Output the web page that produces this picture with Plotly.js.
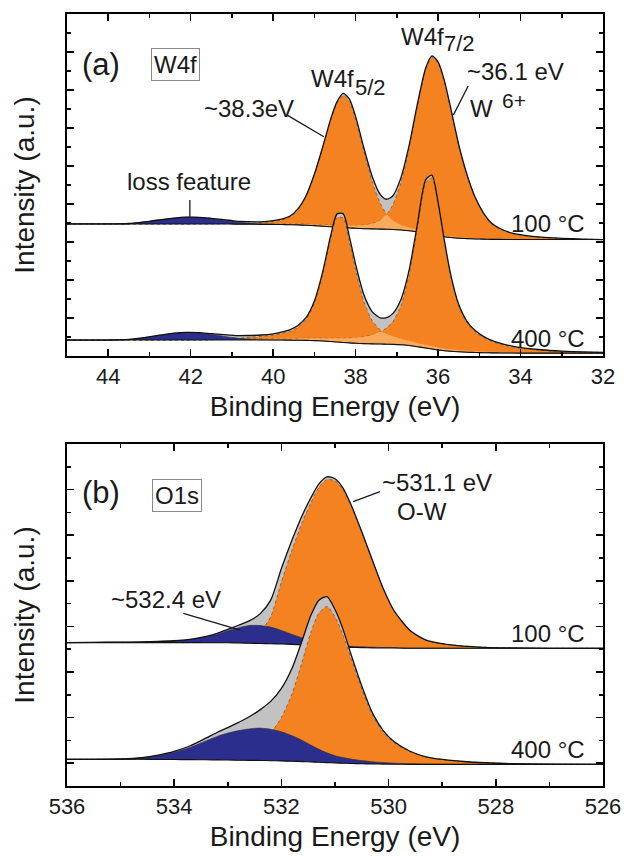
<!DOCTYPE html>
<html>
<head>
<meta charset="utf-8">
<script src="https://cdn.plot.ly/plotly-3.0.1.min.js"></script>
<style>html,body{margin:0;padding:0;background:#fff;}#chart{width:624px;height:856px;}</style>
</head>
<body>
<div id="chart"></div>
<script>
// ---------- Panel (a): W4f, binding energy grid (eV) ----------
const BE_A = [45, 44.5, 44, 43.5, 43, 42.7, 42.4, 42.1, 41.8, 41.5, 41.2, 40.9, 40.6, 40.3, 40.0, 39.8, 39.6, 39.4, 39.2, 39.0, 38.8, 38.6, 38.45, 38.3, 38.15, 38.0, 37.8, 37.6, 37.4, 37.25, 37.1, 36.9, 36.7, 36.5, 36.3, 36.15, 36.0, 35.85, 35.7, 35.5, 35.3, 35.1, 34.9, 34.7, 34.5, 34.2, 33.9, 33.5, 33.0, 32.5, 32.0];

// 100 °C (a): background and component heights above background
const BG_A_100 = [6.95,6.95,6.95,6.95,6.95,6.95,6.95,6.95,6.95,6.95,6.95,6.94,6.94,6.93,6.93,6.92,6.91,6.90,6.88,6.86,6.83,6.80,6.78,6.76,6.74,6.72,6.70,6.69,6.68,6.67,6.66,6.63,6.59,6.53,6.45,6.39,6.33,6.28,6.24,6.20,6.18,6.16,6.15,6.14,6.14,6.13,6.13,6.13,6.13,6.13,6.13];
const W52_A_100 = [0,0,0,0,0,0,0,0,0,0,0.01,0.02,0.045,0.08,0.15,0.24,0.40,0.79,1.51,2.65,4.09,5.62,6.51,6.95,6.64,5.73,4.07,2.49,1.34,0.81,0.48,0.26,0.17,0.125,0.10,0.09,0.077,0.067,0.06,0.052,0.046,0.042,0.035,0.033,0.03,0.025,0.02,0.015,0.01,0.005,0];
const W72_A_100 = [0,0,0,0,0,0,0,0,0.01,0.015,0.02,0.025,0.03,0.035,0.04,0.043,0.045,0.055,0.058,0.065,0.073,0.086,0.097,0.113,0.137,0.15,0.19,0.28,0.47,0.77,1.28,2.50,4.35,6.63,8.61,9.32,9.07,8.17,6.81,4.88,3.33,2.15,1.35,0.81,0.54,0.31,0.20,0.11,0.054,0.02,0];
const LOSS_A_100 = [0,0,0,0.025,0.14,0.23,0.31,0.356,0.34,0.28,0.20,0.11,0.054,0.018,0,0,0,0,0,0,0,0,0,0,0,0,0,0,0,0,0,0,0,0,0,0,0,0,0,0,0,0,0,0,0,0,0,0,0,0,0];

// 400 °C (a)
const BG_A_400 = [0.84,0.84,0.84,0.84,0.84,0.84,0.84,0.84,0.84,0.84,0.84,0.84,0.84,0.84,0.84,0.84,0.835,0.83,0.82,0.81,0.79,0.76,0.74,0.71,0.69,0.67,0.65,0.64,0.63,0.62,0.61,0.59,0.55,0.49,0.42,0.37,0.32,0.28,0.25,0.22,0.20,0.185,0.175,0.165,0.16,0.155,0.15,0.15,0.15,0.15,0.15];
const W52_A_400 = [0,0,0,0,0,0,0,0,0,0.01,0.05,0.08,0.14,0.19,0.26,0.34,0.46,0.68,1.10,1.96,3.48,5.45,6.55,6.55,5.33,3.85,2.21,1.23,0.74,0.54,0.43,0.32,0.25,0.20,0.17,0.15,0.13,0.115,0.10,0.09,0.078,0.068,0.061,0.056,0.05,0.044,0.038,0.03,0.02,0.01,0];
const W72_A_400 = [0,0,0,0,0,0,0,0,0.02,0.025,0.035,0.045,0.05,0.06,0.07,0.075,0.085,0.095,0.11,0.127,0.146,0.17,0.19,0.22,0.25,0.30,0.36,0.47,0.64,0.86,1.19,2.07,3.75,6.27,8.68,9.0,7.64,5.73,4.0,2.41,1.55,1.09,0.80,0.60,0.47,0.32,0.23,0.15,0.09,0.055,0.036];
const LOSS_A_400 = [0,0,0,0.03,0.17,0.27,0.36,0.40,0.37,0.30,0.20,0.11,0.05,0.016,0,0,0,0,0,0,0,0,0,0,0,0,0,0,0,0,0,0,0,0,0,0,0,0,0,0,0,0,0,0,0,0,0,0,0,0,0];

// ---------- Panel (b): O1s ----------
const BE_B = [536, 535.5, 535, 534.6, 534.3, 534.0, 533.7, 533.4, 533.2, 533.0, 532.8, 532.6, 532.4, 532.2, 532.0, 531.8, 531.6, 531.45, 531.3, 531.15, 531.0, 530.85, 530.7, 530.5, 530.3, 530.1, 529.9, 529.6, 529.3, 529.0, 528.6, 528.2, 527.7, 527.0, 526.0];

const BG_B_100 = [6.29,6.29,6.29,6.29,6.29,6.29,6.29,6.285,6.28,6.28,6.27,6.26,6.25,6.24,6.23,6.21,6.19,6.17,6.15,6.13,6.11,6.09,6.08,6.07,6.06,6.05,6.05,6.04,6.04,6.04,6.04,6.04,6.04,6.04,6.04];
const OW_B_100 = [0,0,0,0,0,0,0,0.02,0.03,0.06,0.11,0.20,0.51,1.18,2.72,4.15,5.44,6.25,6.95,7.31,7.28,6.91,6.20,5.04,3.80,2.59,1.63,0.77,0.35,0.20,0.096,0.044,0.015,0,0];
const O2_B_100 = [0,0.01,0.02,0.03,0.05,0.08,0.14,0.26,0.38,0.53,0.67,0.78,0.79,0.73,0.59,0.44,0.30,0.22,0.15,0.12,0.088,0.068,0.051,0.038,0.031,0.024,0.018,0.012,0.008,0.005,0,0,0,0,0];

const BG_B_400 = [1.17,1.17,1.17,1.17,1.165,1.16,1.155,1.15,1.145,1.14,1.13,1.125,1.12,1.11,1.10,1.085,1.07,1.055,1.04,1.025,1.01,1.0,0.99,0.975,0.965,0.96,0.955,0.95,0.95,0.95,0.95,0.95,0.95,0.95,0.95];
const OW_B_400 = [0,0,0.005,0.01,0.02,0.04,0.07,0.12,0.17,0.24,0.36,0.53,0.80,1.22,1.90,2.97,4.48,5.69,6.54,6.85,6.41,5.62,4.59,3.27,2.13,1.40,0.95,0.55,0.32,0.21,0.125,0.07,0.03,0.005,0];
const O2_B_400 = [0,0,0.01,0.06,0.17,0.32,0.54,0.84,1.03,1.18,1.30,1.38,1.42,1.38,1.28,1.12,0.92,0.74,0.57,0.43,0.32,0.25,0.19,0.14,0.10,0.07,0.045,0.025,0.012,0.005,0,0,0,0,0];

// ---------- tick labels ----------
const TICKS_A = [44, 42, 40, 38, 36, 34, 32];
const TICKS_B = [536, 534, 532, 530, 528, 526];

// ---------- styling ----------
const ORANGE = '#F58220', NAVY = '#2B2E8C', GRAY = '#C2C2C2', LIGHTOR = '#F9AA5C';
const FONT = 'Liberation Sans, Arial, Helvetica, sans-serif';

const plus = (a, b) => a.map((v, i) => v + b[i]);
const SHAPE = {shape: 'spline', smoothing: 0.7};

function base(x, y, xa, ya) {
  return {x, y, xaxis: xa, yaxis: ya, mode: 'lines', line: Object.assign({width: 0}, SHAPE),
          hoverinfo: 'skip', showlegend: false};
}
function filled(x, y, xa, ya, fc, lc, lw, dash) {
  return {x, y, xaxis: xa, yaxis: ya, mode: 'lines', fill: 'tonexty', fillcolor: fc,
          line: Object.assign({color: lc, width: lw, dash: dash || 'solid'}, SHAPE),
          hoverinfo: 'skip', showlegend: false};
}
function plain(x, y, xa, ya, lc, lw) {
  return {x, y, xaxis: xa, yaxis: ya, mode: 'lines',
          line: Object.assign({color: lc, width: lw}, SHAPE), hoverinfo: 'skip', showlegend: false};
}

const traces = [];
function panelA(bg, h52, h72, loss) {
  const xa = 'x', ya = 'y', x = BE_A;
  const env = bg.map((v, i) => v + h52[i] + h72[i] + loss[i]);
  const ovl = bg.map((v, i) => v + Math.min(h52[i], h72[i]));
  traces.push(base(x, bg, xa, ya), filled(x, env, xa, ya, GRAY, 'rgba(0,0,0,0)', 0));
  traces.push(base(x, bg, xa, ya), filled(x, plus(bg, h52), xa, ya, ORANGE, '#6b4a2a', 0.7, 'dot'));
  traces.push(base(x, bg, xa, ya), filled(x, plus(bg, h72), xa, ya, ORANGE, '#6b4a2a', 0.7, 'dot'));
  traces.push(base(x, bg, xa, ya), filled(x, ovl, xa, ya, LIGHTOR, 'rgba(0,0,0,0)', 0));
  traces.push(base(x, bg, xa, ya), filled(x, plus(bg, loss), xa, ya, NAVY, '#333', 0.6));
  traces.push(plain(x, env, xa, ya, '#111', 1.3), plain(x, bg, xa, ya, '#111', 1.1));
}
function panelB(bg, ow, o2) {
  const xa = 'x2', ya = 'y2', x = BE_B;
  const env = bg.map((v, i) => v + ow[i] + o2[i]);
  traces.push(base(x, bg, xa, ya), filled(x, env, xa, ya, GRAY, 'rgba(0,0,0,0)', 0));
  traces.push(base(x, bg, xa, ya), filled(x, plus(bg, ow), xa, ya, ORANGE, '#6b4a2a', 0.7, 'dot'));
  traces.push(base(x, bg, xa, ya), filled(x, plus(bg, o2), xa, ya, NAVY, '#333', 0.6));
  traces.push(plain(x, env, xa, ya, '#111', 1.3), plain(x, bg, xa, ya, '#111', 1.1));
}
panelA(BG_A_100, W52_A_100, W72_A_100, LOSS_A_100);
panelA(BG_A_400, W52_A_400, W72_A_400, LOSS_A_400);
panelB(BG_B_100, OW_B_100, O2_B_100);
panelB(BG_B_400, OW_B_400, O2_B_400);

function xAxis(range, tv, anchor) {
  return {domain: [67/624, 603/624], range, anchor, tickmode: 'array', tickvals: tv, ticktext: tv.map(String),
    ticks: 'inside', ticklen: 7, tickwidth: 1.5, tickcolor: '#000', showline: true, linewidth: 1.6,
    linecolor: '#000', mirror: 'ticks', showgrid: false, zeroline: false,
    tickfont: {size: 22, color: '#1a1a1a', family: FONT},
    minor: {dtick: 1, tick0: 0, ticks: 'inside', ticklen: 4, tickwidth: 1.5, tickcolor: '#000', showgrid: false},
    title: {text: 'Binding Energy (eV)', font: {size: 28, color: '#1a1a1a', family: FONT}, standoff: 8},
    automargin: false, fixedrange: true};
}
function yAxis(domain, range, tick0, anchor) {
  return {domain, range, anchor, dtick: 2, tick0, ticks: 'inside', ticklen: 7, tickwidth: 1.5, tickcolor: '#000',
    showticklabels: false, showline: true, linewidth: 1.6, linecolor: '#000', mirror: 'ticks',
    showgrid: false, zeroline: false,
    minor: {dtick: 1, tick0: 0, ticks: 'inside', ticklen: 4, tickwidth: 1.5, tickcolor: '#000', showgrid: false},
    title: {text: 'Intensity (a.u.)', font: {size: 28, color: '#1a1a1a', family: FONT}, standoff: 22},
    automargin: false, fixedrange: true};
}

const A = (x, y, text, opts) => Object.assign({x, y, text, showarrow: false,
  font: {size: 24, color: '#1a1a1a', family: FONT}, xanchor: 'center', yanchor: 'middle'}, opts || {});
const sz = (s) => ({font: {size: s, color: '#1a1a1a', family: FONT}});

const annotations = [
  // panel (a)
  A(44.18, 15.32, '(a)', Object.assign({xref: 'x', yref: 'y'}, sz(31))),
  A(42.36, 15.32, 'W4f', {xref: 'x', yref: 'y', bordercolor: '#8a8a8a', borderwidth: 1, borderpad: 2}),
  A(40.59, 13.0, '~38.3eV', {xref: 'x', yref: 'y'}),
  A(38.56, 14.58, 'W4f', {xref: 'x', yref: 'y'}),
  A(37.65, 14.15, '5/2', Object.assign({xref: 'x', yref: 'y'}, sz(22))),
  A(36.38, 16.84, 'W4f', {xref: 'x', yref: 'y'}),
  A(35.47, 16.45, '7/2', Object.assign({xref: 'x', yref: 'y'}, sz(22))),
  A(34.13, 14.95, '~36.1 eV', {xref: 'x', yref: 'y'}),
  A(34.95, 13.0, 'W', {xref: 'x', yref: 'y'}),
  A(34.17, 13.45, '6+', Object.assign({xref: 'x', yref: 'y'}, sz(21))),
  A(42.04, 9.2, 'loss feature', {xref: 'x', yref: 'y'}),
  A(32.39, 6.95, '100 °C', {xref: 'x', yref: 'y', xanchor: 'right'}),
  A(32.39, 0.93, '400 °C', {xref: 'x', yref: 'y', xanchor: 'right'}),
  // panel (b)
  A(535.37, 12.89, '(b)', Object.assign({xref: 'x2', yref: 'y2'}, sz(31))),
  A(533.95, 12.74, 'O1s', {xref: 'x2', yref: 'y2', bordercolor: '#8a8a8a', borderwidth: 1, borderpad: 2}),
  A(529.10, 13.33, '~531.1 eV', {xref: 'x2', yref: 'y2'}),
  A(529.38, 12.02, 'O-W', {xref: 'x2', yref: 'y2'}),
  A(534.15, 8.16, '~532.4 eV', {xref: 'x2', yref: 'y2'}),
  A(526.30, 6.71, '100 °C', {xref: 'x2', yref: 'y2', xanchor: 'right'}),
  A(526.30, 1.58, '400 °C', {xref: 'x2', yref: 'y2', xanchor: 'right'})
];

const L = (xref, yref, x0, y0, x1, y1) => ({type: 'line', xref, yref, x0, y0, x1, y1, line: {color: '#1a1a1a', width: 1.3}});
const shapes = [
  L('x', 'y', 39.66, 12.68, 38.77, 11.54),
  L('x', 'y', 35.27, 14.21, 35.63, 12.68),
  L('x', 'y', 42.02, 8.21, 42.02, 7.33),
  L('x2', 'y2', 530.66, 12.47, 530.16, 12.91),
  L('x2', 'y2', 533.83, 7.57, 532.77, 6.84)
];

const layout = {
  width: 624, height: 856, margin: {l: 0, r: 0, t: 0, b: 0},
  paper_bgcolor: '#fff', plot_bgcolor: '#fff', showlegend: false,
  font: {family: FONT, color: '#1a1a1a'},
  xaxis: xAxis([45, 32], TICKS_A, 'y'),
  yaxis: yAxis([(856-356)/856, (856-14)/856], [0, 18], 0, 'x'),
  xaxis2: xAxis([536, 526], TICKS_B, 'y2'),
  yaxis2: yAxis([(856-786)/856, (856-444)/856], [0, 15], 1, 'x2'),
  annotations, shapes
};

Plotly.newPlot('chart', traces, layout, {staticPlot: true, displayModeBar: false});
</script>
</body>
</html>
